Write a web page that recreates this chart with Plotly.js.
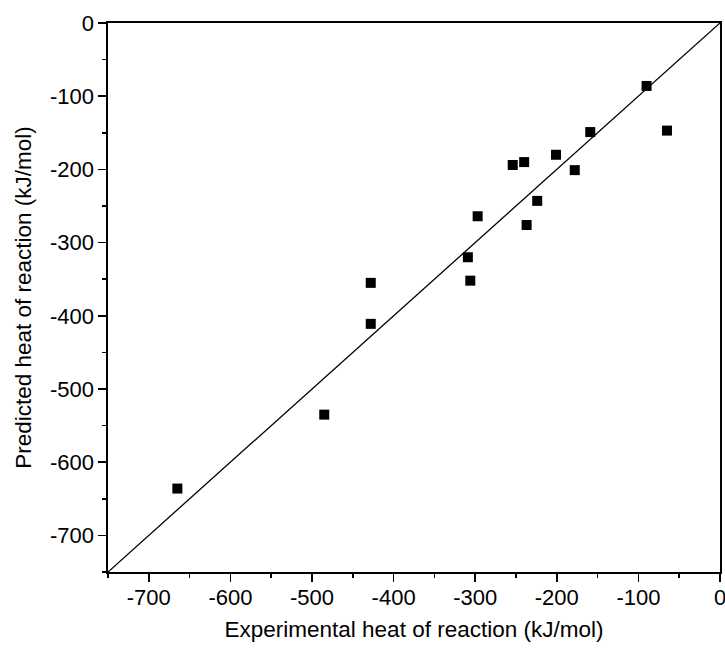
<!DOCTYPE html>
<html>
<head>
<meta charset="utf-8">
<script src="https://cdn.plot.ly/plotly-3.0.1.min.js"></script>
<style>html,body{margin:0;padding:0;background:#fff;}#chart{width:725px;height:650px;}</style>
</head>
<body>
<div id="chart"></div>
<script>
// Experimental vs predicted heat of reaction (kJ/mol)
const experimental = [-665, -485, -428, -428, -309, -306, -297, -254, -240, -237, -224, -201, -178, -159, -90, -65];
const predicted    = [-636, -535, -355, -411, -320, -352, -264, -194, -190, -276, -243, -180, -201, -149, -86, -147];
const axisRange = [-750, 0];            // shared by both axes and by the y = x parity line
const tickValues = [-700, -600, -500, -400, -300, -200, -100, 0];
const tickLabels = ['-700', '-600', '-500', '-400', '-300', '-200', '-100', '0'];

const font = {family: 'Liberation Sans, Arial, sans-serif', color: '#000'};

const traces = [
  {
    x: axisRange, y: axisRange, mode: 'lines', type: 'scatter',
    line: {color: '#000', width: 1.3}, hoverinfo: 'skip', showlegend: false
  },
  {
    x: experimental, y: predicted, mode: 'markers', type: 'scatter',
    marker: {symbol: 'square', size: 10, color: '#000'}, showlegend: false
  }
];

function axis(titleText, standoff, labelStandoff) {
  return {
    range: axisRange, autorange: false,
    tickmode: 'array', tickvals: tickValues, ticktext: tickLabels,
    ticks: 'outside', ticklen: 8, tickwidth: 1.5, tickcolor: '#000',
    minor: {dtick: 50, tick0: 0, ticks: 'outside', ticklen: 4, tickwidth: 1.5, tickcolor: '#000', showgrid: false},
    showline: true, linecolor: '#000', linewidth: 1.6, mirror: true,
    showgrid: false, zeroline: false,
    ticklabeloverflow: 'allow',
    ticklabelstandoff: labelStandoff,
    tickfont: Object.assign({size: 22}, font),
    title: {text: titleText, font: Object.assign({size: 22.5}, font), standoff: standoff},
    automargin: false
  };
}

const layout = {
  width: 725, height: 650,
  margin: {l: 108, r: 5, t: 23, b: 78},
  paper_bgcolor: '#fff', plot_bgcolor: '#fff',
  xaxis: axis('Experimental heat of reaction (kJ/mol)', 12, -3),
  yaxis: axis('Predicted heat of reaction (kJ/mol)', 12, 0),
  showlegend: false
};

Plotly.newPlot('chart', traces, layout, {displayModeBar: false, staticPlot: true});
</script>
</body>
</html>
